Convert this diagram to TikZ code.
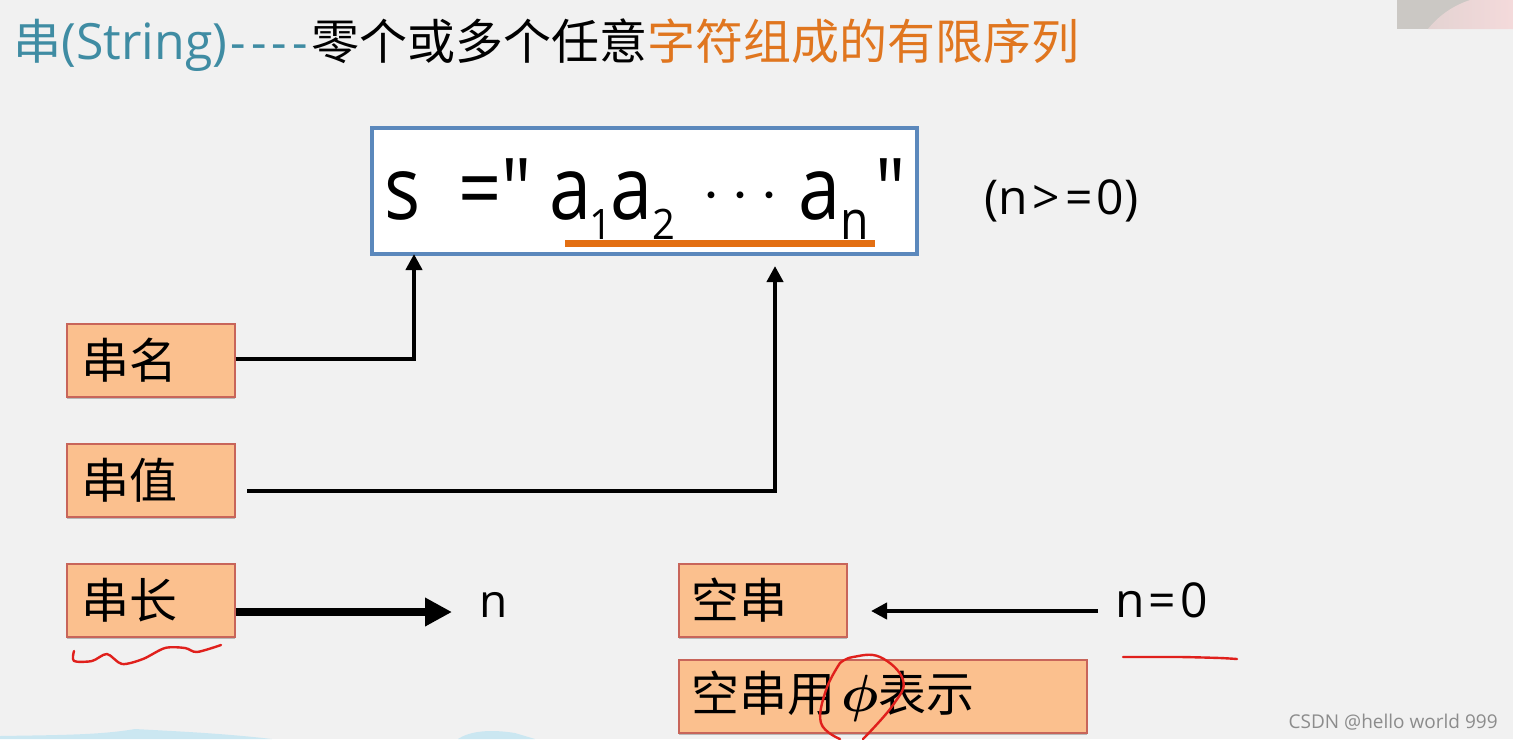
\documentclass[tikz,border=0pt]{standalone}
\usepackage{amsmath}
\usepackage{fontspec}
\setmainfont{Open Sans}[Ligatures=TeXOff]
\newfontfamily\cjk{Noto Sans CJK SC}
\usepackage{tikz}
\usetikzlibrary{arrows.meta, shadows}
\definecolor{pagegrey}{HTML}{F1F1F1}
\definecolor{titleteal}{HTML}{3F8CA3}
\definecolor{titleorange}{HTML}{E0761F}
\definecolor{boxfill}{HTML}{FBC08E}
\definecolor{boxedge}{HTML}{C8655A}
\definecolor{mainedge}{HTML}{5B88BC}
\definecolor{lineorange}{HTML}{E36F12}
\definecolor{inkred}{HTML}{E0201C}
\definecolor{wavesblue}{HTML}{CBE7F1}
\definecolor{videogrey}{HTML}{CBC8C4}
\definecolor{videopink}{HTML}{F4DADB}
\definecolor{markgrey}{HTML}{8C8C8C}
\newcommand{\thin}[1]{\scalebox{0.86}[1]{#1}}
\newcommand{\lowsub}[1]{\raisebox{-10pt}{\fontsize{21}{24}\selectfont\scalebox{0.95}[1]{#1}}}
\tikzset{labelbox/.style={draw=boxedge, line width=0.8pt, fill=boxfill, anchor=north west, minimum height=36.5pt, text width=84pt, inner xsep=0pt, inner ysep=0pt, align=left, font=\fontsize{24}{28}\cjk, drop shadow={shadow xshift=0pt, shadow yshift=-1.2pt, opacity=0.5}}}
\tikzset{pointer/.style={line width=2.4pt, -{Triangle[length=8pt, width=8pt]}}}
\tikzset{plaintext/.style={inner sep=0pt, text=black}}
\tikzset{inkline/.style={draw=inkred, line width=1.2pt, line cap=round, line join=round}}
\begin{document}
\begin{tikzpicture}[x=0.5pt, y=-0.5pt]
    \useasboundingbox (0, 0) rectangle (1513, 739);
    \fill[pagegrey] (0, 0) rectangle (1513, 739);
    % corner of the video and the smears along the lower edge
    \fill[videogrey] (1397, 0) rectangle (1513, 29);
    \shade[left color=videogrey!40!videopink, right color=videopink] (1428, 29) .. controls (1440, 14) and (1455, 5) .. (1470, 0) -- (1513, 0) -- (1513, 29) -- cycle;
    \fill[wavesblue] (0, 739) -- (0, 736) .. controls (60, 735) and (100, 735) .. (135, 729) .. controls (170, 731) and (220, 733) .. (272, 739) -- cycle;
    \fill[wavesblue] (458, 739) .. controls (470, 731) and (490, 729) .. (515, 733) -- (535, 739) -- cycle;

    \node[plaintext, anchor=base west, font=\fontsize{24}{28}\selectfont] (title) at (13, 59) {\textcolor{titleteal}{{\cjk 串}{\fontsize{25}{28}\selectfont (String)}\kern1.5pt-\kern2.7pt-\kern2.7pt-\kern2.7pt-\kern1.5pt}\textcolor{black}{\cjk 零个或多个任意}\textcolor{titleorange}{\cjk 字符组成的有限序列}};

    \draw[mainedge, line width=2pt, fill=white] (372, 128) rectangle (917, 254);
    \coordinate (mainsw) at (372, 254);
    \node[plaintext, anchor=base west, font=\fontsize{44}{48}\selectfont] (formula) at (384, 219) {\thin{s}\hspace{19pt}\thin{=}\kern0pt\raisebox{-1pt}{\thin{"}}\hspace{8.5pt}\thin{a}\kern-1pt\lowsub{1}\kern-1pt\thin{a}\lowsub{2}\hspace{14pt}\raisebox{4pt}{\scalebox{1.3}{$\cdots$}}\hspace{4.5pt}\thin{a}\raisebox{-10pt}{\fontsize{27}{30}\selectfont\thin{n}}\hspace{3.5pt}\raisebox{-1pt}{\thin{"}}};
    \coordinate (linestart) at (565, 243);
    \coordinate (lineend) at (875, 243);
    \draw[lineorange, line width=3.5pt] (linestart) -- (lineend);
    \node[plaintext, anchor=base west, font=\fontsize{24}{28}\selectfont] (range) at (984, 214) {(n\kern2pt>\kern3pt=\kern2pt0)};

    \node[labelbox] (name) at (66, 323) {\hspace{7.5pt}串名};
    \node[labelbox] (value) at (66, 443) {\hspace{7.5pt}串值};
    \node[labelbox] (length) at (66, 563) {\hspace{7.5pt}串长};
    \node[labelbox] (empty) at (678, 563) {\hspace{6.5pt}空串};
    \node[labelbox, text width=204pt] (emptyuse) at (678, 659) {\hspace{6.5pt}空串用\kern3pt\scalebox{1.05}{$\boldsymbol{\phi}$}\kern-0.5pt 表示};

    \node[plaintext, anchor=base west, font=\fontsize{23}{26}\selectfont] (lenn) at (479, 617) {n};
    \node[plaintext, anchor=base west, font=\fontsize{24}{28}\selectfont] (zero) at (1115, 617) {n\kern2pt=\kern2pt0};

    \coordinate (nametip) at (414, 254);
    \coordinate (valuestart) at (247, 491);
    \coordinate (valuetip) at (775, 266);
    \draw[pointer] (name.east |- 0, 359) -- (414, 359) -- (nametip);
    \draw[pointer] (valuestart) -- (775, 491) -- (valuetip);
    \coordinate (lentip) at (452, 612);
    \coordinate (zerostart) at (1098, 611);
    \coordinate (zerotip) at (871, 611);
    \draw[line width=4pt, -{Triangle[length=13.5pt, width=13.5pt]}] (length.east |- lentip) -- (lentip);
    \draw[pointer] (zerostart) -- (zerotip);

    % red pen strokes
    \draw[inkline] plot[smooth, tension=0.5] coordinates {(74, 651) (74, 661) (92, 661) (107, 654) (122, 664) (143, 659) (165, 648) (185, 648) (197, 652) (221, 645)};
    \draw[inkline] plot[smooth, tension=0.4] coordinates {(1123, 657) (1180, 657) (1220, 658) (1237, 659)};
    \draw[inkline] plot[smooth, tension=0.7] coordinates {(840, 663) (853, 657) (880, 657) (903, 680) (893, 705) (863, 739)};
    \draw[inkline] plot[smooth, tension=0.7] coordinates {(840, 663) (826, 690) (821, 723) (840, 739)};

    \node[plaintext, anchor=base east, text=markgrey, font=\fontsize{9.5}{11}\selectfont] (mark) at (1498, 728) {CSDN @hello world 999};
\end{tikzpicture}
\end{document}
